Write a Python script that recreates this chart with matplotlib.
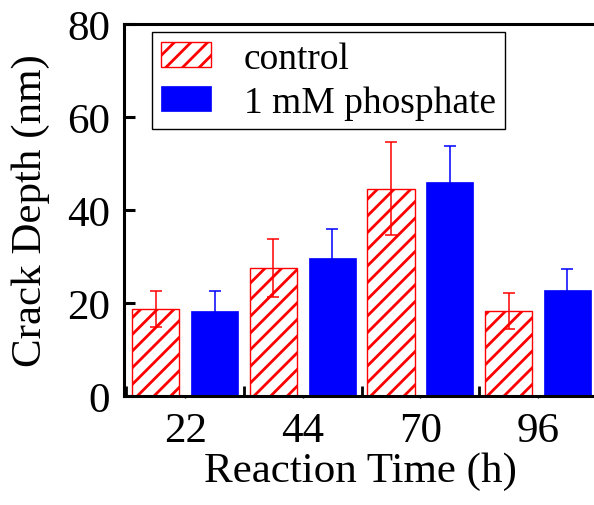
import matplotlib
matplotlib.use("Agg")
import matplotlib.pyplot as plt
import numpy as np
from matplotlib.patches import Rectangle
from matplotlib.legend_handler import HandlerPatch

plt.rcParams["font.family"] = ["Liberation Serif", "DejaVu Serif"]
plt.rcParams["hatch.linewidth"] = 2.0

times = ["22", "44", "70", "96"]
control = [18.7, 27.5, 44.6, 18.3]
control_err = [3.9, 6.2, 10.0, 3.9]
phosphate = [18.3, 29.7, 46.0, 22.7]
phosphate_err = [4.3, 6.3, 7.8, 4.7]

x = np.arange(len(times))
width = 0.40
offset = 0.25

fig = plt.figure(figsize=(5.94, 5.06), dpi=100)
ax = fig.add_axes([0.2088, 0.2154, 0.796, 0.7352])

ax.bar(x - offset, control, width, color="white", edgecolor="red",
       hatch="//", linewidth=1.0, label="control", zorder=2)
ax.bar(x + offset, phosphate, width, color="blue", edgecolor="blue",
       linewidth=0.5, label="1 mM phosphate", zorder=2)
ax.errorbar(x - offset, control, yerr=control_err, fmt="none", ecolor="red",
            elinewidth=1.1, capsize=4.3, capthick=1.1, zorder=3)
ax.errorbar(x + offset, phosphate, yerr=phosphate_err, fmt="none", ecolor="blue",
            elinewidth=1.1, capsize=4.3, capthick=1.1, zorder=1)

ax.set_xlim(-0.52, 3.5)
ax.set_ylim(0, 80)
ax.set_yticks([0, 20, 40, 60, 80])
ax.set_xticks(x)
ax.set_xticklabels(times)
ax.set_xticks([-0.5, 0.5, 1.5, 2.5], minor=True)

ax.tick_params(axis="y", which="major", direction="in", length=8, width=2.2,
               labelsize=31, pad=10)
ax.tick_params(axis="x", which="major", direction="out", length=1.5, width=1,
               labelsize=31, pad=10)
ax.tick_params(axis="x", which="minor", direction="in", length=7, width=2.0)

for side in ["left", "top", "bottom"]:
    ax.spines[side].set_linewidth(2.2)
ax.spines["right"].set_visible(False)

ax.set_xlabel("Reaction Time (h)", fontsize=31, labelpad=1)
ax.set_ylabel("Crack Depth (nm)", fontsize=31, labelpad=12)


def make_patch(legend, orig_handle, xdescent, ydescent, width, height, fontsize):
    shift = 0.28 * width
    return Rectangle((-xdescent + shift, -ydescent), width - shift, height)


leg = ax.legend(loc="upper left", bbox_to_anchor=(0.059, 0.978), borderaxespad=0,
                fontsize=27, frameon=True, fancybox=False, edgecolor="black",
                framealpha=1, handlelength=1.33, handleheight=0.64,
                handletextpad=0.88, labelspacing=0.26, borderpad=0.24,
                handler_map={Rectangle: HandlerPatch(patch_func=make_patch)})
leg.get_frame().set_linewidth(1.0)

fig.savefig("out.png", dpi=100)
